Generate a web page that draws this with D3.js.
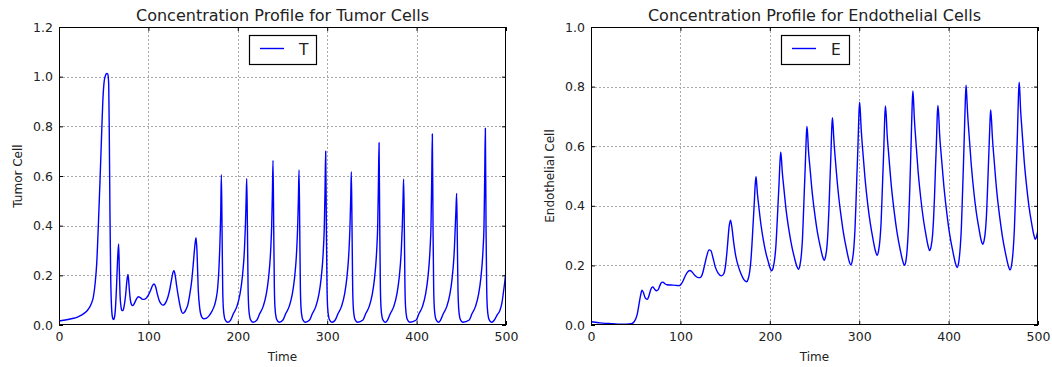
<!DOCTYPE html>
<html>
<head>
<meta charset="utf-8">
<script src="https://cdn.jsdelivr.net/npm/d3@7"></script>
<style>
  html, body { margin: 0; padding: 0; background: #ffffff; }
  svg { display: block; }
  text { font-family: "DejaVu Sans", sans-serif; fill: #222; }
</style>
</head>
<body>
<svg id="chart" width="1052" height="367"></svg>
<script>
// ---------------- data ----------------
const timeTicks = [0, 100, 200, 300, 400, 500];
const tumorTicks = [0.0, 0.2, 0.4, 0.6, 0.8, 1.0, 1.2];
const endoTicks = [0.0, 0.2, 0.4, 0.6, 0.8, 1.0];

const tumorSeries = [
  [0,0.016],[5,0.019],[10,0.022],[15,0.026],[20,0.031],[25,0.04],[30,0.052],[33,0.065],[36,0.085],
  [38.5,0.114],[40.5,0.17],[42.2,0.248],[44,0.4],[45.9,0.584],[47.5,0.75],[49,0.9],[50.5,0.98],
  [52,1.005],[53.3,1.013],[54.6,1.01],[55.6,0.97],[56.3,0.75],[57,0.45],[57.8,0.2],[58.8,0.07],
  [60,0.028],[61,0.022],[62,0.03],[63,0.06],[64.3,0.15],[65.5,0.26],[66.7,0.326],[67.5,0.22],
  [68.3,0.12],[69.3,0.075],[70.5,0.058],[71.5,0.058],[72.8,0.075],[74.5,0.12],[76,0.18],[77.2,0.204],
  [78.3,0.16],[79.5,0.11],[81,0.083],[82.4,0.078],[84,0.085],[86,0.1],[88.7,0.114],[91,0.11],
  [93,0.104],[95,0.103],[97.5,0.108],[100,0.12],[102.5,0.14],[104.5,0.158],[106.3,0.165],[108,0.155],
  [110,0.125],[112,0.1],[114,0.086],[116,0.08],[118,0.083],[120,0.095],[122,0.115],[124,0.145],
  [126,0.185],[127.5,0.212],[128.6,0.219],[130,0.2],[131.5,0.16],[133.5,0.114],[135.5,0.075],
  [137,0.055],[138.4,0.047],[140,0.05],[142,0.062],[144,0.08],[146.5,0.128],[148.5,0.18],[150.3,0.25],
  [152,0.32],[153.3,0.352],[154.3,0.3],[155.8,0.14],[157.5,0.065],[159.6,0.033],[162,0.025],
  [165,0.028],[168,0.038],[171,0.055],[174,0.08],[176,0.11],[177.5,0.15],[178.8,0.22],[180,0.33],
  [180.9,0.45],[181.6,0.605],
  [182.4,0.38],[183.1,0.15],[183.8,0.07],[185.1,0.03],[186.6,0.017],[188.6,0.011],[192,0.02],
  [195,0.045],[199,0.075],[202.5,0.125],[205,0.19],[206.5,0.25],[207.5,0.31],[208.5,0.4],[209.3,0.5],[210,0.59],
  [210.8,0.38],[211.5,0.15],[212.2,0.07],[213.5,0.03],[215,0.017],[217,0.011],[221.4,0.02],[224.4,0.045],
  [228.4,0.075],[231.9,0.125],[234.4,0.19],[235.9,0.25],[236.9,0.31],[237.9,0.4],[238.7,0.53],[239.4,0.663],
  [240.2,0.38],[240.9,0.15],[241.6,0.07],[242.9,0.03],[244.4,0.017],[246.4,0.011],[250.5,0.02],[253.5,0.045],
  [257.5,0.075],[261,0.125],[263.5,0.19],[265,0.25],[266,0.31],[267,0.4],[267.8,0.51],[268.5,0.624],
  [269.3,0.38],[270,0.15],[270.7,0.07],[272,0.03],[273.5,0.017],[275.5,0.011],[280.3,0.02],[283.3,0.045],
  [287.3,0.075],[290.8,0.125],[293.3,0.19],[294.8,0.25],[295.8,0.31],[296.8,0.4],[297.6,0.55],[298.3,0.70],
  [299.1,0.38],[299.8,0.15],[300.5,0.07],[301.8,0.03],[303.3,0.017],[305.3,0.011],[309,0.02],[312,0.045],
  [316,0.075],[319.5,0.125],[322,0.19],[323.5,0.25],[324.5,0.31],[325.5,0.4],[326.3,0.51],[327,0.617],
  [327.8,0.38],[328.5,0.15],[329.2,0.07],[330.5,0.03],[332,0.017],[334,0.011],[340,0.02],[343,0.045],
  [347,0.075],[350.5,0.125],[353,0.19],[354.5,0.25],[355.5,0.31],[356.5,0.4],[357.3,0.57],[358,0.734],
  [358.8,0.38],[359.5,0.15],[360.2,0.07],[361.5,0.03],[363,0.017],[365,0.011],[367.5,0.02],[370.5,0.045],
  [374.5,0.075],[378,0.125],[380.5,0.19],[382,0.25],[383,0.31],[384,0.4],[384.8,0.5],[385.5,0.588],
  [386.3,0.38],[387,0.15],[387.7,0.07],[389,0.03],[390.5,0.017],[392.5,0.011],[399.6,0.02],[402.6,0.045],
  [406.6,0.075],[410.1,0.125],[412.6,0.19],[414.1,0.25],[415.1,0.31],[416.1,0.4],[416.9,0.58],[417.6,0.769],
  [418.4,0.38],[419.1,0.15],[419.8,0.07],[421.1,0.03],[422.6,0.017],[424.6,0.011],[426.8,0.02],[429.8,0.045],
  [433.8,0.075],[437.3,0.125],[439.8,0.19],[441.3,0.25],[442.3,0.31],[443.3,0.4],[444.1,0.47],[444.8,0.53],
  [445.6,0.33],[446.3,0.14],[447,0.07],[448.3,0.03],[449.8,0.017],[451.8,0.011],[458.9,0.02],[461.9,0.045],
  [465.9,0.075],[469.4,0.125],[471.9,0.19],[473.4,0.25],[474.4,0.31],[475.4,0.4],[476.2,0.6],[476.9,0.792],
  [477.7,0.38],[478.4,0.15],[479.1,0.07],[480.4,0.03],[481.9,0.017],[483.9,0.011],[487,0.02],[490,0.04],
  [493.3,0.06],[495.5,0.09],[497,0.128],[498.5,0.17],[500,0.22]
];

const endoSeries = [
  [0,0.011],[5,0.009],[10,0.007],[20,0.005],[30,0.003],[40,0.003],[45,0.004],[48,0.01],[50,0.02],
  [52,0.04],[54,0.075],[55.5,0.1],[57,0.117],[58.5,0.11],[60,0.096],[61.5,0.088],[63,0.086],[64.5,0.095],
  [66.5,0.116],[68,0.126],[69.3,0.128],[70.5,0.123],[72,0.117],[73.4,0.115],[75,0.118],[77,0.132],
  [79,0.143],[80.5,0.144],[82.5,0.139],[85,0.135],[90,0.134],[95,0.133],[98,0.132],[100,0.134],
  [102.5,0.145],[105,0.162],[107.5,0.176],[110.7,0.183],[113,0.178],[116,0.167],[119,0.16],[122,0.159],
  [124.5,0.17],[127,0.2],[129.5,0.232],[132,0.252],[134,0.25],[136.5,0.225],[139,0.195],[142,0.175],
  [146,0.165],[148.5,0.172],[150.5,0.2],[152.5,0.26],[154.5,0.33],[156,0.352],[157.5,0.33],[159.5,0.28],
  [162,0.23],[165,0.195],[168,0.17],[171,0.152],[174,0.145],
  [175.9,0.155],[177.7,0.183],[179,0.222],[180.1,0.273],[181.3,0.338],[182.5,0.402],[183.6,0.467],[184.5,0.498],
  [185.2,0.48],[186.1,0.443],[187.4,0.406],[190,0.339],[192.9,0.283],[195.3,0.246],[198.2,0.213],[200.3,0.191],[202,0.182],
  [203.8,0.193],[205.6,0.225],[206.9,0.269],[207.95,0.327],[209.1,0.399],[210.3,0.472],[211.35,0.545],[212.2,0.58],
  [213,0.558],[214,0.512],[215.5,0.466],[218.4,0.382],[221.7,0.313],[224.4,0.267],[227.6,0.225],[230.1,0.198],[232,0.187],
  [233.7,0.2],[235.4,0.239],[236.6,0.292],[237.5,0.361],[238.6,0.449],[239.7,0.536],[240.7,0.623],[241.5,0.666],
  [242.3,0.641],[243.2,0.588],[244.7,0.536],[247.6,0.44],[250.8,0.361],[253.4,0.309],[256.6,0.261],[259,0.23],[260.8,0.217],
  [262.4,0.23],[264.1,0.269],[265.2,0.322],[266.2,0.391],[267.2,0.479],[268.3,0.566],[269.2,0.653],[270,0.696],
  [270.8,0.668],[271.9,0.611],[273.4,0.553],[276.5,0.447],[279.9,0.361],[282.7,0.303],[286.1,0.25],[288.6,0.216],[290.6,0.202],
  [292.3,0.217],[294.1,0.262],[295.3,0.322],[296.3,0.401],[297.4,0.5],[298.6,0.6],[299.6,0.699],[300.4,0.748],
  [301.2,0.719],[302.2,0.659],[303.6,0.599],[306.6,0.489],[309.8,0.399],[312.5,0.339],[315.7,0.284],[318.1,0.249],[320,0.234],
  [321.6,0.248],[323.3,0.289],[324.5,0.344],[325.4,0.416],[326.5,0.508],[327.6,0.599],[328.5,0.69],[329.3,0.735],
  [330.2,0.705],[331.2,0.642],[332.8,0.58],[336,0.465],[339.5,0.372],[342.4,0.309],[345.9,0.252],[348.6,0.216],[350.6,0.2],
  [352.3,0.216],[353.9,0.264],[355.1,0.328],[356.1,0.413],[357.2,0.519],[358.2,0.626],[359.2,0.733],[360,0.785],
  [360.75,0.755],[361.7,0.692],[363.1,0.63],[365.9,0.515],[369,0.422],[371.6,0.359],[374.7,0.302],[377,0.266],[378.8,0.25],
  [380.4,0.263],[382.1,0.303],[383.2,0.357],[384.2,0.427],[385.2,0.516],[386.3,0.605],[387.2,0.694],[388,0.737],
  [388.9,0.707],[389.9,0.643],[391.5,0.579],[394.8,0.463],[398.3,0.368],[401.2,0.304],[404.8,0.246],[407.5,0.209],[409.5,0.193],
  [411.3,0.21],[413,0.26],[414.3,0.327],[415.3,0.416],[416.5,0.527],[417.6,0.639],[418.7,0.751],[419.5,0.805],
  [420.2,0.775],[421.2,0.713],[422.6,0.65],[425.4,0.536],[428.4,0.442],[430.9,0.38],[434,0.323],[436.3,0.286],[438.1,0.271],
  [439.7,0.283],[441.3,0.32],[442.4,0.37],[443.3,0.435],[444.3,0.517],[445.3,0.6],[446.3,0.682],[447,0.722],
  [447.9,0.692],[449,0.629],[450.6,0.566],[453.8,0.451],[457.4,0.357],[460.3,0.295],[463.9,0.237],[466.6,0.201],[468.7,0.185],
  [470.5,0.202],[472.3,0.254],[473.6,0.323],[474.65,0.414],[475.8,0.529],[477,0.644],[478.05,0.759],[478.9,0.815],
  [479.6,0.786],[480.5,0.724],[481.9,0.662],[484.6,0.549],[487.6,0.457],[490,0.396],[493,0.339],[495.3,0.303],[497,0.288],
  [498.5,0.298],[500,0.32]
];

const panels = [
  { id: "t", title: "Concentration Profile for Tumor Cells", ylabel: "Tumor Cell", legend: "T",
    data: tumorSeries, yTicks: tumorTicks, yMax: 1.2, left: 59, right: 506, ylabelX: 18 },
  { id: "e", title: "Concentration Profile for Endothelial Cells", ylabel: "Endothelial Cell", legend: "E",
    data: endoSeries, yTicks: endoTicks, yMax: 1.0, left: 591, right: 1038, ylabelX: 550 }
];

// ---------------- drawing ----------------
const svg = d3.select("#chart");
const plotTop = 27, plotBottom = 325;
const lineColor = "#0000ff";

panels.forEach(p => {
  const x = d3.scaleLinear().domain([0, 500]).range([p.left, p.right]);
  const y = d3.scaleLinear().domain([0, p.yMax]).range([plotBottom, plotTop]);
  const g = svg.append("g");

  // grid
  const grid = g.append("g").attr("class", "grid");
  timeTicks.slice(1, -1).forEach(t => {
    grid.append("line")
      .attr("x1", Math.round(x(t)) + 0.5).attr("x2", Math.round(x(t)) + 0.5)
      .attr("y1", plotTop).attr("y2", plotBottom)
      .attr("stroke", "#a8a8a8").attr("stroke-width", 1).attr("stroke-dasharray", "2,2");
  });
  p.yTicks.slice(1, -1).forEach(v => {
    grid.append("line")
      .attr("x1", p.left).attr("x2", p.right)
      .attr("y1", Math.round(y(v)) + 0.5).attr("y2", Math.round(y(v)) + 0.5)
      .attr("stroke", "#a8a8a8").attr("stroke-width", 1).attr("stroke-dasharray", "2,2");
  });

  // clip
  svg.append("clipPath").attr("id", "clip-" + p.id)
    .append("rect").attr("x", p.left).attr("y", plotTop)
    .attr("width", p.right - p.left).attr("height", plotBottom - plotTop);

  // line
  const line = d3.line().x(d => x(d[0])).y(d => y(d[1])).curve(d3.curveMonotoneX);
  g.append("path").datum(p.data)
    .attr("d", line)
    .attr("fill", "none")
    .attr("stroke", lineColor)
    .attr("stroke-width", 1.4)
    .attr("stroke-linejoin", "round")
    .attr("clip-path", "url(#clip-" + p.id + ")");

  // axes
  const fmt = d3.format(".1f");
  const xAxis = g.append("g").attr("transform", `translate(0,${plotBottom})`)
    .call(d3.axisBottom(x).tickValues(timeTicks).tickFormat(d3.format("d")).tickSize(-4).tickSizeOuter(0).tickPadding(7));
  const xAxisTop = g.append("g").attr("transform", `translate(0,${plotTop})`)
    .call(d3.axisTop(x).tickValues(timeTicks).tickFormat("").tickSize(-4).tickSizeOuter(0));
  const yAxis = g.append("g").attr("transform", `translate(${p.left},0)`)
    .call(d3.axisLeft(y).tickValues(p.yTicks).tickFormat(fmt).tickSize(-4).tickSizeOuter(0).tickPadding(6));
  const yAxisR = g.append("g").attr("transform", `translate(${p.right},0)`)
    .call(d3.axisRight(y).tickValues(p.yTicks).tickFormat("").tickSize(-4).tickSizeOuter(0));
  [xAxis, xAxisTop, yAxis, yAxisR].forEach(a => {
    a.select(".domain").remove();
    a.selectAll("text").attr("font-size", 12.5).attr("font-family", "DejaVu Sans").attr("fill", "#222");
    a.selectAll("line").attr("stroke", "#000");
  });

  // frame
  g.append("rect").attr("x", p.left + 0.5).attr("y", plotTop + 0.5)
    .attr("width", p.right - p.left - 1).attr("height", plotBottom - plotTop - 1)
    .attr("fill", "none").attr("stroke", "#000").attr("stroke-width", 1);

  // title & labels
  g.append("text").attr("x", (p.left + p.right) / 2).attr("y", 20.5)
    .attr("text-anchor", "middle").attr("font-size", 16).text(p.title);
  g.append("text").attr("x", (p.left + p.right) / 2).attr("y", 361)
    .attr("text-anchor", "middle").attr("font-size", 12).text("Time");
  g.append("text")
    .attr("transform", `translate(${p.ylabelX + 4},${(plotTop + plotBottom) / 2}) rotate(-90)`)
    .attr("text-anchor", "middle").attr("font-size", 12).text(p.ylabel);

  // legend
  const cx = (p.left + p.right) / 2;
  const lg = g.append("g");
  const txt = lg.append("text").attr("x", 0).attr("y", 0).attr("font-size", 15.5).text(p.legend);
  const tw = txt.node().getComputedTextLength();
  const lineLen = 24, gap = 15, padL = 11, padR = 8;
  const boxW = padL + lineLen + gap + tw + padR;
  const bx = Math.round(cx - boxW / 2);
  lg.append("rect").attr("x", bx + 0.5).attr("y", 35.5).attr("width", Math.round(boxW)).attr("height", 29)
    .attr("fill", "#fff").attr("stroke", "#000").attr("stroke-width", 1.2);
  lg.append("line").attr("x1", bx + padL).attr("x2", bx + padL + lineLen)
    .attr("y1", 48.5).attr("y2", 48.5).attr("stroke", lineColor).attr("stroke-width", 1.4);
  txt.attr("x", bx + padL + lineLen + gap).attr("y", 54.5).raise();
});
</script>
</body>
</html>
